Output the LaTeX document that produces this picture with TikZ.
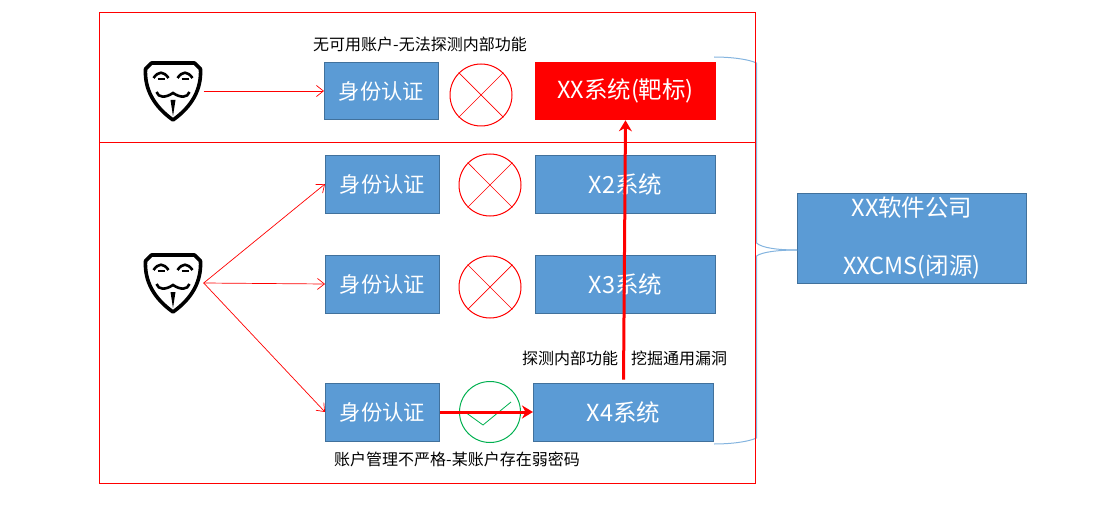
\documentclass[tikz,border=0pt]{standalone}
\usepackage{fontspec}
\setmainfont{Noto Sans CJK SC}
\usetikzlibrary{arrows.meta}

\definecolor{boxblue}{HTML}{5B9BD5}
\definecolor{boxline}{HTML}{41719C}
\definecolor{okgreen}{HTML}{00B050}

\tikzset{
box/.style={draw=boxline,fill=boxblue,text=white,line width=0.8pt,align=center,inner sep=0pt,minimum width=114.2pt,minimum height=57.8pt,font=\fontsize{21.3}{29}\selectfont},
sysbox/.style={box,minimum width=180.2pt,font=\fontsize{23.5}{29}\selectfont},
note/.style={inner sep=0pt,font=\fontsize{16}{18}\selectfont},
lamp/.style={draw,circle,minimum size=#1,inner sep=0pt,line width=1pt},
hacker/.style={minimum width=62pt,minimum height=60pt,inner sep=0pt},
frame/.style={draw=red,line width=1pt},
go/.style={draw=red,line width=0.7pt,-{Straight Barb[length=7pt,width=11pt]}},
main/.style={draw=red,line width=3pt,-{Stealth[length=11pt,width=13pt]}},
brace/.style={draw=boxblue!75,line width=1pt},
mask/.pic={
\draw[line width=3.6pt,line join=round,fill=white] (-21,-28) -- (22,-28) -- (28,-22)
.. controls (29,-2) and (20,15) .. (0.5,29)
.. controls (-19,15) and (-28,-2) .. (-27,-22) -- cycle;
\draw[line width=2.6pt] (-19,-13) .. controls (-14,-20) and (-9,-20) .. (-4,-13);
\draw[line width=2.6pt] (5,-13) .. controls (10,-20) and (15,-20) .. (20,-13);
\draw[line width=2pt] (-15,-12) -- (-8,-12);
\draw[line width=2pt] (9,-12) -- (16,-12);
\draw[line width=2.6pt] (-16,1) .. controls (-14,7) and (-7,7) .. (0.5,2)
.. controls (8,7) and (15,7) .. (17,1);
\fill (-2,9) -- (3,9) -- (0.5,25) -- cycle;
}
}

\begin{document}
\begin{tikzpicture}[x=1pt,y=-1pt]
\useasboundingbox (0,0) rectangle (1101,516);

\node[hacker] (H1) at (172.5,91) {};
\node[hacker] (H2) at (172.5,283) {};
\pic at (H1) {mask};
\pic at (H2) {mask};

\node[box] (A1) at (381.5,91) {身份认证};
\node[box] (A2) at (382.5,184) {身份认证};
\node[box] (A3) at (382.5,284) {身份认证};
\node[box] (A4) at (382.5,412) {身份认证};

\node[sysbox,draw=none,fill=red] (T1) at (625.5,91) {XX系统(靶标)};
\node[sysbox] (X2) at (625.5,184) {X2系统};
\node[sysbox] (X3) at (625.5,284) {X3系统};
\node[sysbox] (X4) at (623.5,412) {X4系统};

\node[sysbox,minimum width=229.2pt,minimum height=89.8pt] (C) at (912,238) {XX软件公司\\ \\XXCMS(闭源)};

\node[lamp=62pt,draw=red] (L1) at (481,95) {};
\node[lamp=62pt,draw=red] (L2) at (490,185) {};
\node[lamp=62pt,draw=red] (L3) at (490,287) {};
\node[lamp=61pt,draw=okgreen] (L4) at (490,412) {};

\draw[red,line width=0.7pt] (L1.45) -- (L1.225);
\draw[red,line width=0.7pt] (L1.135) -- (L1.315);
\draw[red,line width=0.7pt] (L2.45) -- (L2.225);
\draw[red,line width=0.7pt] (L2.135) -- (L2.315);
\draw[red,line width=0.7pt] (L3.45) -- (L3.225);
\draw[red,line width=0.7pt] (L3.135) -- (L3.315);

\coordinate (K1) at (465,412);
\coordinate (K2) at (483,425);
\coordinate (K3) at (511,402);
\draw[okgreen,line width=0.8pt] (K1) -- (K2) -- (K3);

\node[note] (N1) at (420,44) {无可用账户-无法探测内部功能};
\node[note] (N2) at (457,459) {账户管理不严格-某账户存在弱密码};
\node[note] (N3) at (570,358) {探测内部功能};
\node[note] (N4) at (679,358) {挖掘通用漏洞};

\draw[go] (H1.east) -- (A1.west);
\draw[go] (H2.east) -- (A2.west);
\draw[go] (H2.east) -- (A3.west);
\draw[go] (H2.east) -- (A4.west);

\draw[main] (A4.east) -- (X4.west);
\draw[main,shorten <=3pt] (X4.north) -- (T1.south);

% braces to the company box
\coordinate (B1) at (714,57);
\coordinate (B2) at (714,444);
\coordinate (B3) at (797,250);
\draw[brace] (B1) .. controls (730,57) and (748,59) .. (756.5,63)
-- (756.5,243) .. controls (762,248) and (778,250) .. (B3);
\draw[brace] (B2) .. controls (730,444) and (748,442) .. (756.5,438)
-- (756.5,256) .. controls (762,252) and (778,250) .. (B3);

% frames
\draw[frame] (99,13) rectangle (755,483);
\draw[frame] (99,143) -- (755,143);

\end{tikzpicture}
\end{document}
